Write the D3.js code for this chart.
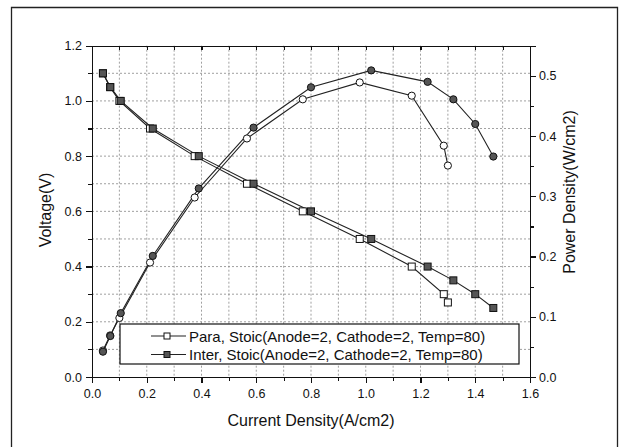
<!DOCTYPE html>
<meta charset="utf-8">
<style>
body { margin: 0; background: #fff; }
svg { display: block; background: #fff; }
text { font-family: "Liberation Sans", Arial, sans-serif; fill: #111; }
.tick text { font-size: 12.5px; }
.axis path, .axis line { stroke: #111; stroke-width: 1.2px; shape-rendering: crispEdges; }
.grid line { stroke: #888; stroke-width: 0.8px; stroke-dasharray: 2,2; }
.line { fill: none; stroke: #222; stroke-width: 1.1px; }
.title { font-size: 16px; }
.legend text { font-size: 15px; }
</style>
<body>
<script src="https://cdn.jsdelivr.net/npm/d3@7"></script>
<script>

// Para, Stoic(Anode=2, Cathode=2, Temp=80)
var paraCurrent = [0.04, 0.066, 0.10, 0.212, 0.375, 0.566, 0.77, 0.978, 1.168, 1.285, 1.30];
var paraVoltage = [1.10, 1.05, 1.00, 0.90, 0.80, 0.70, 0.60, 0.50, 0.40, 0.30, 0.27];
var paraPower   = [0.044, 0.069, 0.098, 0.190, 0.298, 0.396, 0.461, 0.489, 0.467, 0.384, 0.351];

// Inter, Stoic(Anode=2, Cathode=2, Temp=80)
var interCurrent = [0.04, 0.067, 0.105, 0.222, 0.39, 0.59, 0.80, 1.02, 1.226, 1.32, 1.40, 1.466];
var interVoltage = [1.10, 1.05, 1.00, 0.90, 0.80, 0.70, 0.60, 0.50, 0.40, 0.35, 0.30, 0.25];
var interPower   = [0.042, 0.068, 0.106, 0.201, 0.313, 0.414, 0.481, 0.509, 0.490, 0.461, 0.420, 0.366];

var legendLabels = ["Para, Stoic(Anode=2, Cathode=2, Temp=80)", "Inter, Stoic(Anode=2, Cathode=2, Temp=80)"];

var xTicks = [0.0, 0.2, 0.4, 0.6, 0.8, 1.0, 1.2, 1.4, 1.6];
var yTicks = [0.0, 0.2, 0.4, 0.6, 0.8, 1.0, 1.2];
var y2Ticks = [0.0, 0.1, 0.2, 0.3, 0.4, 0.5];

var margin = {top: 45.7, right: 91, bottom: 70, left: 92};
var W = 621, H = 447;
var width = W - margin.left - margin.right;   // 438
var height = 377 - margin.top;

var x = d3.scaleLinear().domain([0, 1.6]).range([0, width]);
var y = d3.scaleLinear().domain([0, 1.2]).range([height, 0]);
var y2 = d3.scaleLinear().domain([0, 0.55]).range([height, 0]);

var fmt = d3.format(".1f");

var root = d3.select("body").append("svg")
	.attr("width", W)
	.attr("height", H);

// outer frame (runs off the bottom edge)
root.append("path")
	.attr("d", "M11.5," + H + "V7.5H617.5V" + H)
	.attr("fill", "none")
	.attr("stroke", "#222")
	.attr("stroke-width", 1.3);

var svg = root.append("g")
	.attr("transform", "translate(" + margin.left + "," + margin.top + ")");

// grid
var gx = d3.range(1, 16).map(function(i) { return i / 10; });
var gy = d3.range(1, 12).map(function(i) { return i / 10; });

var grid = svg.append("g").attr("class", "grid");
grid.selectAll(".gv").data(gx).enter().append("line")
	.attr("x1", function(d) { return x(d); })
	.attr("x2", function(d) { return x(d); })
	.attr("y1", 0).attr("y2", height);
grid.selectAll(".gh").data(gy).enter().append("line")
	.attr("y1", function(d) { return y(d); })
	.attr("y2", function(d) { return y(d); })
	.attr("x1", 0).attr("x2", width);

function pairs(xs, ys) {
	return xs.map(function(v, i) { return [v, ys[i]]; });
}

var paraV = pairs(paraCurrent, paraVoltage);
var paraP = pairs(paraCurrent, paraPower);
var interV = pairs(interCurrent, interVoltage);
var interP = pairs(interCurrent, interPower);

var lineV = d3.line().x(function(d) { return x(d[0]); }).y(function(d) { return y(d[1]); });
var lineP = d3.line().x(function(d) { return x(d[0]); }).y(function(d) { return y2(d[1]); });

svg.append("path").datum(paraV).attr("class", "line").attr("d", lineV);
svg.append("path").datum(paraP).attr("class", "line").attr("d", lineP);
svg.append("path").datum(interV).attr("class", "line").attr("d", lineV);
svg.append("path").datum(interP).attr("class", "line").attr("d", lineP);

function squares(data, fill) {
	svg.append("g").selectAll("rect")
		.data(data)
		.enter().append("rect")
		.attr("x", function(d) { return x(d[0]) - 3.5; })
		.attr("y", function(d) { return y(d[1]) - 3.5; })
		.attr("width", 7)
		.attr("height", 7)
		.attr("fill", fill)
		.attr("stroke", "#111")
		.attr("stroke-width", 1);
}

function circles(data, fill) {
	svg.append("g").selectAll("circle")
		.data(data)
		.enter().append("circle")
		.attr("cx", function(d) { return x(d[0]); })
		.attr("cy", function(d) { return y2(d[1]); })
		.attr("r", 3.6)
		.attr("fill", fill)
		.attr("stroke", "#111")
		.attr("stroke-width", 1);
}

squares(paraV, "#fff");
circles(paraP, "#fff");
squares(interV, "#555");
circles(interP, "#555");

// legend
var lg = svg.append("g").attr("class", "legend")
	.attr("transform", "translate(" + (120 - margin.left) + "," + (324 - margin.top) + ")");
lg.append("rect")
	.attr("width", 399).attr("height", 40)
	.attr("fill", "#fff").attr("stroke", "#111").attr("stroke-width", 1.2);

var fills = ["#fff", "#555"];
legendLabels.forEach(function(label, i) {
	var ly = 12 + i * 18.5;
	lg.append("line")
		.attr("x1", 31).attr("x2", 66).attr("y1", ly).attr("y2", ly)
		.attr("stroke", "#222").attr("stroke-width", 1.1);
	lg.append("rect")
		.attr("x", 44).attr("y", ly - 3).attr("width", 6).attr("height", 6)
		.attr("fill", fills[i]).attr("stroke", "#111");
	lg.append("text")
		.attr("x", 69).attr("y", ly + 5.5)
		.text(label);
});

// axes
var xAxis = d3.axisBottom(x).tickValues(xTicks).tickSize(6).tickPadding(6).tickFormat(fmt);
var xMinor = d3.axisBottom(x).tickValues(d3.range(1, 16, 2).map(function(i) { return i / 10; })).tickSize(4).tickFormat("");
var yAxis = d3.axisLeft(y).tickValues(yTicks).tickSize(6).tickPadding(4).tickFormat(fmt);
var yMinor = d3.axisLeft(y).tickValues(d3.range(1, 12, 2).map(function(i) { return i / 10; })).tickSize(4).tickFormat("");
var y2Axis = d3.axisRight(y2).tickValues(y2Ticks).tickSize(6).tickPadding(3).tickFormat(fmt);
var y2Minor = d3.axisRight(y2).tickValues([0.05, 0.15, 0.25, 0.35, 0.45]).tickSize(4).tickFormat("");
var topAxis = d3.axisBottom(x).tickValues(gx).tickSize(4).tickFormat("");

svg.append("g").attr("class", "x axis")
	.attr("transform", "translate(0," + height + ")").call(xAxis);
svg.append("g").attr("class", "x axis")
	.attr("transform", "translate(0," + height + ")").call(xMinor);
svg.append("g").attr("class", "y axis").call(yAxis);
svg.append("g").attr("class", "y axis").call(yMinor);
svg.append("g").attr("class", "y axis")
	.attr("transform", "translate(" + width + ",0)").call(y2Axis);
svg.append("g").attr("class", "y axis")
	.attr("transform", "translate(" + width + ",0)").call(y2Minor);
svg.append("g").attr("class", "x axis").call(topAxis);

// titles
svg.append("text").attr("class", "title")
	.attr("x", width / 2).attr("y", 426 - margin.top)
	.attr("text-anchor", "middle")
	.text("Current Density(A/cm2)");

svg.append("text").attr("class", "title")
	.attr("transform", "translate(" + (51 - margin.left) + "," + (210 - margin.top) + ") rotate(-90)")
	.attr("text-anchor", "middle")
	.text("Voltage(V)");

svg.append("text").attr("class", "title")
	.attr("transform", "translate(" + (575 - margin.left) + "," + (192 - margin.top) + ") rotate(-90)")
	.attr("text-anchor", "middle")
	.text("Power Density(W/cm2)");

</script>
